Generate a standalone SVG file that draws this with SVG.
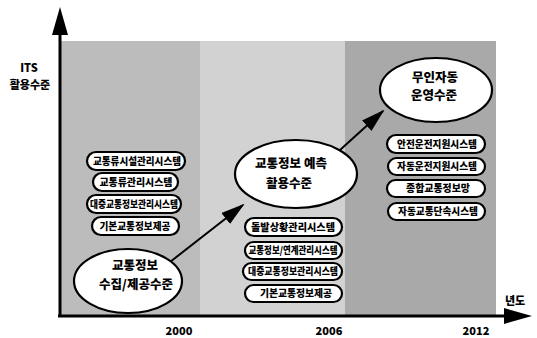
<svg xmlns="http://www.w3.org/2000/svg" width="537" height="338" viewBox="0 0 537 338">
<style>
text{font-family:"Noto Sans CJK KR","Noto Sans",sans-serif;font-weight:900;fill:#000;text-anchor:middle}
.box{fill:#fff;stroke:#000;stroke-width:2.2}
.ell{fill:#fff;stroke:#000;stroke-width:2.2}
.bt{font-size:10px}
.et{font-size:12.5px}
.lab{font-size:11px}
.axis{stroke:#000;stroke-width:3;fill:none}
.conn{stroke:#000;stroke-width:2;fill:none}
</style>
<defs>
<marker id="ah" markerUnits="userSpaceOnUse" markerWidth="24" markerHeight="14" refX="22" refY="7" orient="auto">
<path d="M0,0 L24,7 L0,14 z" fill="#000"/>
</marker>
<marker id="axh" markerUnits="userSpaceOnUse" markerWidth="28" markerHeight="16" refX="2" refY="8" orient="auto">
<path d="M0,0 L28,8 L0,16 z" fill="#000"/>
</marker>
</defs>
<g id="background">
<rect x="61" y="41" width="139" height="274" fill="#bcbcbc"/>
<rect x="200" y="41" width="145" height="274" fill="#d2d2d2"/>
<rect x="345" y="41" width="151" height="274" fill="#a9a9a9"/>
</g>
<g id="axes">
<line class="axis" x1="60" y1="317" x2="60" y2="33" marker-end="url(#axh)"/>
<line class="axis" x1="58" y1="316" x2="506" y2="316" marker-end="url(#axh)"/>
<text class="lab" x="29" y="72" font-size="9.5">ITS</text>
<text class="lab" x="30" y="89" font-size="10.5">활용수준</text>
<text class="lab" x="515" y="305">년도</text>
<text class="lab" x="179" y="335">2000</text>
<text class="lab" x="329" y="335">2006</text>
<text class="lab" x="476" y="335">2012</text>
</g>
<g id="connectors">
<line class="conn" x1="170" y1="262" x2="243" y2="205" marker-end="url(#ah)"/>
<line class="conn" x1="340" y1="150" x2="383" y2="111" marker-end="url(#ah)"/>
</g>
<g id="stage1">
<rect class="box" x="87" y="152" width="98" height="18" rx="9"/>
<text class="bt" x="137" y="165" textLength="88" lengthAdjust="spacingAndGlyphs">교통류시설관리시스템</text>
<rect class="box" x="93" y="173" width="85" height="18" rx="9"/>
<text class="bt" x="136" y="186" textLength="73" lengthAdjust="spacingAndGlyphs">교통류관리시스템</text>
<rect class="box" x="87" y="195" width="94" height="18" rx="9"/>
<text class="bt" x="134" y="208" textLength="88" lengthAdjust="spacingAndGlyphs">대중교통정보관리시스템</text>
<rect class="box" x="92" y="217" width="87" height="18" rx="9"/>
<text class="bt" x="135" y="230" textLength="71" lengthAdjust="spacingAndGlyphs">기본교통정보제공</text>
<ellipse class="ell" cx="128" cy="281" rx="54" ry="32"/>
<text class="et" x="135" y="270">교통정보</text>
<text class="et" x="136" y="289">수집/제공수준</text>
</g>
<g id="stage2">
<ellipse class="ell" cx="296" cy="174" rx="61" ry="34"/>
<text class="et" x="291" y="168">교통정보 예측</text>
<text class="et" x="289" y="188">활용수준</text>
<rect class="box" x="245" y="218" width="97" height="18" rx="9"/>
<text class="bt" x="293" y="231" textLength="84" lengthAdjust="spacingAndGlyphs">돌발상황관리시스템</text>
<rect class="box" x="245" y="242" width="97" height="17" rx="8.5"/>
<text class="bt" x="293" y="254" textLength="89" lengthAdjust="spacingAndGlyphs">교통정보/연계관리시스템</text>
<rect class="box" x="243" y="263" width="99" height="17" rx="8.5"/>
<text class="bt" x="293" y="275" textLength="90" lengthAdjust="spacingAndGlyphs">대중교통정보관리시스템</text>
<rect class="box" x="245" y="285" width="97" height="17" rx="8.5"/>
<text class="bt" x="296" y="297" textLength="72" lengthAdjust="spacingAndGlyphs">기본교통정보제공</text>
</g>
<g id="stage3">
<ellipse class="ell" cx="436" cy="90" rx="56" ry="32"/>
<text class="et" x="435" y="82">무인자동</text>
<text class="et" x="434" y="100">운영수준</text>
<rect class="box" x="387" y="135" width="98" height="18" rx="9"/>
<text class="bt" x="437" y="148" textLength="80" lengthAdjust="spacingAndGlyphs">안전운전지원시스템</text>
<rect class="box" x="388" y="158" width="97" height="17" rx="8.5"/>
<text class="bt" x="437" y="170" textLength="80" lengthAdjust="spacingAndGlyphs">자동운전지원시스템</text>
<rect class="box" x="387" y="180" width="98" height="17" rx="8.5"/>
<text class="bt" x="438" y="192" textLength="64" lengthAdjust="spacingAndGlyphs">종합교통정보망</text>
<rect class="box" x="388" y="203" width="97" height="17" rx="8.5"/>
<text class="bt" x="438" y="215" textLength="80" lengthAdjust="spacingAndGlyphs">자동교통단속시스템</text>
</g>
</svg>
